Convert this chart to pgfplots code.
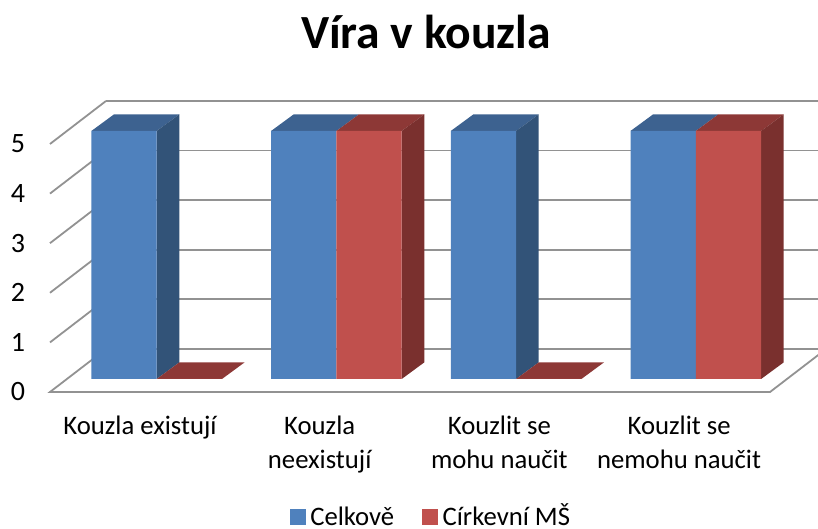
\documentclass[border=0pt]{standalone}
\usepackage{pgfplots}
\pgfplotsset{compat=1.18}
\usepackage{fontspec}
\setmainfont{Carlito}
\definecolor{blueF}{HTML}{4F81BD}
\definecolor{blueT}{HTML}{3D6290}
\definecolor{blueS}{HTML}{325378}
\definecolor{redF}{HTML}{C0504D}
\definecolor{redT}{HTML}{8D3836}
\definecolor{redS}{HTML}{7A302E}
\definecolor{gridc}{HTML}{929292}
\tikzset{barplane/.style={xshift=16.7pt,yshift=13pt}}
\newcommand\face[2]{\addplot[forget plot,fill=#1,draw=none,barplane] coordinates {#2} --cycle;}
\newcommand\gridl[1]{\addplot[forget plot,gridc,line width=1.8pt,no marks] coordinates {#1};}
\begin{document}
\begin{tikzpicture}
\useasboundingbox (0,0) rectangle (818pt,529pt);
\begin{axis}[
  at={(0,0)},anchor=south west,
  scale only axis,width=818pt,height=529pt,
  xmin=-0.779,xmax=3.773,ymin=-2.762,ymax=7.903,
  axis line style={draw=none},
  major tick length=0pt,
  ytick={0,1,2,3,4,5},
  xtick={0,1,2,3},
  xticklabels={Kouzla existují,Kouzla\\neexistují,Kouzlit se\\mohu naučit,Kouzlit se\\nemohu naučit},
  /pgf/number format/assume math mode=true,
  yticklabel style={anchor=center,xshift=18pt,font=\fontsize{28}{32}\selectfont},
  xticklabel style={align=center,anchor=north,yshift=117pt,font=\fontsize{26.7}{34}\selectfont},
  title={\textbf{Víra v kouzla}},
  title style={at={(426pt,491pt)},anchor=center,font=\fontsize{47.6}{52}\selectfont},
  legend style={at={(431pt,11pt)},anchor=center,draw=none,fill=none,legend columns=2,
    font=\fontsize{26.7}{28}\selectfont,
    nodes={text height=18pt,text depth=2pt,inner ysep=0pt},
    /tikz/every odd column/.append style={column sep=3pt},
    /tikz/every even column/.append style={column sep=26pt}},
  legend cell align=left,
]
% wall and floor lines (front plane, then back plane)
\gridl{(-0.5008,1)(-0.1892,1.867)}
\gridl{(-0.5008,2)(-0.1892,2.867)}
\gridl{(-0.5008,3)(-0.1892,3.867)}
\gridl{(-0.5008,4)(-0.1892,4.867)}
\gridl{(-0.5008,5)(-0.1892,5.867)}
\gridl{(-0.1892,1.867)(3.8,1.867)}
\gridl{(-0.1892,2.867)(3.8,2.867)}
\gridl{(-0.1892,3.867)(3.8,3.867)}
\gridl{(-0.1892,4.867)(3.8,4.867)}
\gridl{(-0.1892,5.867)(3.8,5.867)}
\gridl{(-0.1892,0.867)(-0.5008,0)(3.506,0)(3.818,0.867)}
\gridl{(-0.1892,0.867)(3.8,0.867)}
% tops and sides
\face{blueT}{(-0.3634,5)(0,5)(0.1258,5.335)(-0.2376,5.335)}
\face{blueS}{(0,0)(0,5)(0.1258,5.335)(0.1258,0.335)}
\face{redT}{(0,0)(0.3634,0)(0.4892,0.335)(0.1258,0.335)}
\face{blueT}{(0.6366,5)(1,5)(1.1258,5.335)(0.7624,5.335)}
\face{redT}{(1,5)(1.3634,5)(1.4892,5.335)(1.1258,5.335)}
\face{redS}{(1.3634,0)(1.3634,5)(1.4892,5.335)(1.4892,0.335)}
\face{blueT}{(1.6366,5)(2,5)(2.1258,5.335)(1.7624,5.335)}
\face{blueS}{(2,0)(2,5)(2.1258,5.335)(2.1258,0.335)}
\face{redT}{(2,0)(2.3634,0)(2.4892,0.335)(2.1258,0.335)}
\face{blueT}{(2.6366,5)(3,5)(3.1258,5.335)(2.7624,5.335)}
\face{redT}{(3,5)(3.3634,5)(3.4892,5.335)(3.1258,5.335)}
\face{redS}{(3.3634,0)(3.3634,5)(3.4892,5.335)(3.4892,0.335)}
% front faces
\addplot[forget plot,ybar,bar width=65.3pt,bar shift=-32.65pt,fill=blueF,draw=none,barplane]
  coordinates {(0,5)(1,5)(2,5)(3,5)};
\addplot[forget plot,ybar,bar width=65.3pt,bar shift=32.65pt,fill=redF,draw=none,barplane]
  coordinates {(0,0)(1,5)(2,0)(3,5)};
\addlegendimage{legend image code/.code={\fill[blueF] (0pt,-6pt) rectangle (15pt,9pt);}}
\addlegendentry{Celkově}
\addlegendimage{legend image code/.code={\fill[redF] (0pt,-6pt) rectangle (15pt,9pt);}}
\addlegendentry{Církevní MŠ}
\end{axis}
\end{tikzpicture}
\end{document}
